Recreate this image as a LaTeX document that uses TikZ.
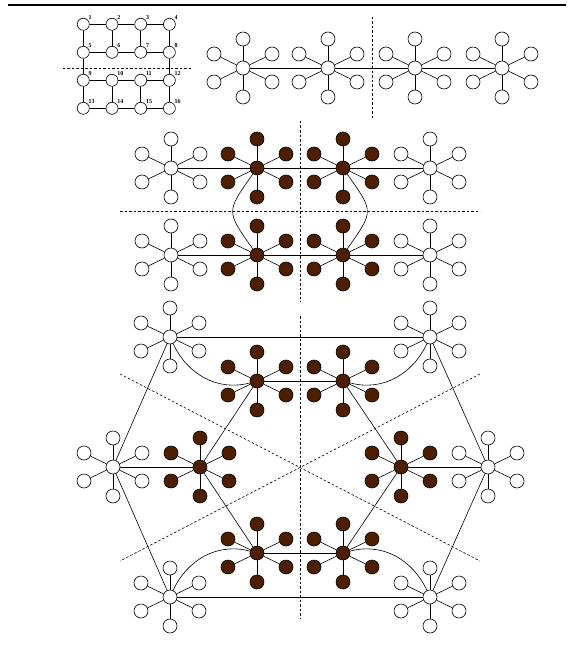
\documentclass[tikz,border=0pt]{standalone}
\usepackage{fontspec}
\setmainfont{Liberation Serif}
\definecolor{seedbrown}{RGB}{77,30,0}
\begin{document}
\begin{tikzpicture}[x=1pt, y=1pt,
    leaf/.style={circle, draw, fill=white, inner sep=0pt, minimum size=14pt, line width=0.6pt},
    seed/.style={leaf, fill=seedbrown},
    cell/.style={circle, draw, inner sep=0pt, minimum size=12pt, line width=0.6pt},
    tag/.style={font=\fontsize{6}{6}\selectfont\bfseries, inner sep=0.3pt},
    link/.style={line width=0.6pt},
    cut/.style={line width=0.6pt, dash pattern=on 2.5pt off 2pt}
  ]
  \useasboundingbox (0,0) rectangle (574,-658);
  \draw[line width=2.6pt] (8,-5) -- (566,-5);
  % Grid of cells
  \foreach \r in {0,...,3}{
    \foreach \c in {1,...,4}{
      \pgfmathtruncatemacro\i{4*\r+\c}
      \node[cell, label distance=1.2pt, label={[tag]40:\i}] (g\i) at ({54.6+28.7*\c},{-24.3-28*\r}) {};
    }
  }
  \foreach \r in {0,...,3}{
    \foreach \c in {1,2,3}{
      \pgfmathtruncatemacro\a{4*\r+\c}
      \pgfmathtruncatemacro\b{\a+1}
      \draw[link] (g\a) -- (g\b);
    }
  }
  \foreach \a/\b in {1/5,2/6,3/7,4/8,5/9,8/12,9/13,10/14,11/15,12/16}
    \draw[link] (g\a) -- (g\b);
  % Stars
  \foreach \n/\x/\y/\s in {s1/243/-68/leaf, s2/328/-68/leaf, s3/415/-68/leaf, s4/502/-68/leaf,
      m1/171/-168/leaf, m2/257/-168/seed, m3/343/-168/seed, m4/430/-168/leaf,
      n1/171/-255/leaf, n2/257/-255/seed, n3/343/-255/seed, n4/430/-255/leaf,
      wa/170/-337/leaf, wb/430/-337/leaf, wc/113/-467/leaf, wd/488/-467/leaf,
      we/170/-597/leaf, wf/430/-597/leaf,
      ba/257/-381/seed, bb/343/-381/seed, bc/200/-467/seed, bd/401/-467/seed,
      be/257/-553/seed, bf/343/-553/seed}{
    \node[\s] (\n) at (\x,\y) {};
    \foreach \k/\dx/\dy in {1/0/29, 2/29/14, 3/29/-14, 4/0/-29, 5/-29/-14, 6/-29/14}{
      \node[\s] (\n-\k) at (\x+\dx,\y+\dy) {};
      \draw[link] (\n) -- (\n-\k);
    }
  }
  % Links
  \foreach \a/\b in {s1/s2, s2/s3, s3/s4, m1/m2, m2/m3, m3/m4, n1/n2, n2/n3, n3/n4,
      wa/wb, ba/bb, wc/bc, bd/wd, we/wf, be/bf,
      wa/wc, wc/we, wb/wd, wd/wf, ba/bc, bc/be, bb/bd, bd/bf}
    \draw[link] (\a) -- (\b);
  \draw[link] (m2) to[out=-125, in=125, looseness=1.6] (n2);
  \draw[link] (m3) to[out=-55, in=55, looseness=1.6] (n3);
  \draw[link] (wa) to[out=-65, in=195] (ba);
  \draw[link] (wb) to[out=-115, in=-15] (bb);
  \draw[link] (we) to[out=65, in=165] (be);
  \draw[link] (wf) to[out=115, in=15] (bf);
  % Cuts
  \draw[cut] (62.7,-68.3) -- (193,-68.3);
  \draw[cut] (372,-17) -- (372,-118);
  \draw[cut] (120,-211.5) -- (480,-211.5);
  \draw[cut] (300.5,-121) -- (300.5,-302);
  \draw[cut] (300,-316) -- (300,-618);
  \draw[cut] (120,-374) -- (480,-561);
  \draw[cut] (480,-374) -- (120,-561);
\end{tikzpicture}
\end{document}
